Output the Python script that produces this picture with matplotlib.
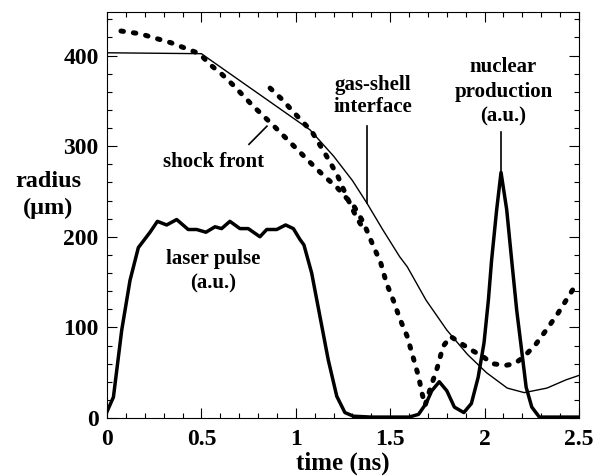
import numpy as np
import matplotlib
matplotlib.use("Agg")
import matplotlib.pyplot as plt
import matplotlib.ticker as ticker

plt.rc("font", family=["Liberation Serif", "DejaVu Serif"], weight="bold", size=15)
plt.rc("axes", labelweight="bold")

# gas-shell interface (thin solid)
interface_t = [0.0, 0.5, 1.075, 1.2, 1.3, 1.377, 1.46, 1.55, 1.59, 1.69, 1.80,
               1.91, 2.01, 2.12, 2.21, 2.33, 2.43, 2.5]
interface_r = [403, 402, 318, 289, 262, 237, 208, 178, 167, 130, 97,
               70, 50, 33, 28, 33, 42, 47]

# shock front (dotted, main branch)
shock_t = [0.074, 0.175, 0.34, 0.44, 0.49, 0.546, 0.61, 0.67, 0.77, 0.88, 0.99,
           1.10, 1.15, 1.22, 1.31, 1.36, 1.40, 1.45, 1.48, 1.52, 1.55, 1.59,
           1.62, 1.65, 1.67, 1.685, 1.71, 1.75, 1.78, 1.82, 1.87, 1.93, 1.99,
           2.04, 2.11, 2.16, 2.21, 2.27, 2.34, 2.39, 2.45, 2.49]
shock_r = [427, 424, 414, 406, 402, 390, 379, 367, 345, 323, 300,
           277, 267, 254, 233, 215, 195, 171, 149, 128, 110, 90,
           68, 46, 26, 14, 31, 56, 79, 90, 83, 75, 68,
           60, 58, 60, 68, 81, 101, 116, 136, 149]

# shock front (dotted, second branch)
shock2_t = [0.864, 0.93, 0.986, 1.085, 1.16, 1.22, 1.27, 1.32, 1.36]
shock2_r = [364, 351, 338, 316, 290, 268, 244, 222, 208]

# laser pulse + nuclear production (thick solid)
pulse_t = [0.0, 0.034, 0.078, 0.122, 0.166, 0.228, 0.267, 0.316, 0.369, 0.43,
           0.475, 0.524, 0.572, 0.607, 0.651, 0.704, 0.748, 0.81, 0.846, 0.899,
           0.946, 0.987, 1.022, 1.043, 1.084, 1.128, 1.172, 1.217, 1.26, 1.305,
           1.4, 1.5, 1.6, 1.65, 1.69, 1.72, 1.76, 1.80, 1.84, 1.89, 1.93,
           1.966, 1.997, 2.02, 2.037, 2.064, 2.087, 2.117, 2.143, 2.17, 2.196,
           2.22, 2.25, 2.29, 2.4, 2.5]
pulse_r = [7, 23, 97, 152, 188, 205, 217, 213, 219, 208,
           208, 205, 211, 209, 217, 209, 209, 200, 208, 208,
           213, 209, 197, 191, 160, 112, 64, 24, 6, 2,
           1, 1, 1, 4, 16, 30, 40, 30, 12, 6, 16,
           45, 83, 130, 174, 230, 271, 230, 175, 119, 75,
           34, 12, 1, 1, 1]

fig = plt.figure(figsize=(6.04, 4.76), dpi=100)
ax = fig.add_axes([107 / 604, 1 - 418 / 476, 472 / 604, 406 / 476])

ax.plot(interface_t, interface_r, color="black", lw=1.0)
ax.plot(pulse_t, pulse_r, color="black", lw=2.5, solid_joinstyle="round")
for t, r in [(shock_t, shock_r), (shock2_t, shock2_r)]:
    ax.plot(t, r, color="black", lw=3.6, linestyle=(0, (0.5, 2.0)),
            dash_capstyle="round")

ax.set_xlim(0, 2.5)
ax.set_ylim(0, 448)
ax.xaxis.set_major_locator(ticker.MultipleLocator(0.5))
ax.xaxis.set_minor_locator(ticker.MultipleLocator(0.1))
ax.yaxis.set_major_locator(ticker.MultipleLocator(100))
ax.yaxis.set_minor_locator(ticker.MultipleLocator(20))
ax.xaxis.set_major_formatter(ticker.FuncFormatter(lambda v, p: f"{v:g}"))
ax.tick_params(which="both", direction="in", top=True, right=True, width=0.8)
ax.tick_params(which="major", length=7, labelsize=17)
ax.tick_params(which="minor", length=3.5)
ax.tick_params(axis="x", which="major", pad=8)
ax.tick_params(axis="y", which="major", pad=6)
for s in ax.spines.values():
    s.set_linewidth(0.8)

ax.set_xlabel("time (ns)", fontsize=18, fontweight="bold")
ax.xaxis.set_label_coords(0.5, -0.082)
fig.text(48 / 604, 1 - 195 / 476, "radius\n(\u03bcm)", ha="center", va="center",
         fontsize=17.5, linespacing=1.4)

ax.text(1.41, 355, "gas-shell\ninterface", ha="center", va="center", linespacing=1.15)
ax.plot([1.378, 1.378], [322, 237], color="black", lw=1.2)
ax.text(2.1, 360, "nuclear\nproduction\n(a.u.)", ha="center", va="center",
        linespacing=1.3)
ax.plot([2.087, 2.087], [316, 271], color="black", lw=1.2)
ax.text(0.567, 283, "shock front", ha="center", va="center")
ax.plot([0.752, 0.847], [302, 322], color="black", lw=1.2)
ax.text(0.56, 162, "laser pulse\n(a.u.)", ha="center", va="center",
        linespacing=1.25)

fig.savefig("out.png", dpi=100)
